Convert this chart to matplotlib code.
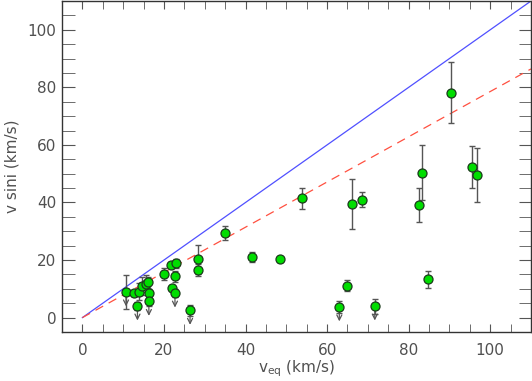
import numpy as np
import matplotlib
matplotlib.use("Agg")
import matplotlib.pyplot as plt

# -----------------------------
# Data
# -----------------------------
v_eq = np.array([10.7, 12.6, 14.0, 13.5, 14.6, 15.6, 16.2, 16.3, 16.3,
                 20.0, 21.8, 23.0, 22.7, 22.0, 22.7, 26.4, 28.3, 28.4,
                 34.9, 41.5, 48.4, 53.8, 63.0, 64.9, 66.1, 68.6, 71.7,
                 82.5, 83.3, 84.7, 90.3, 95.6, 96.7])
vsini = np.array([8.9, 8.6, 9.0, 4.0, 11.0, 11.8, 12.2, 8.6, 5.6,
                  15.2, 18.3, 18.9, 14.3, 10.2, 8.5, 2.5, 20.2, 16.6,
                  29.4, 21.1, 20.2, 41.5, 3.7, 11.1, 39.5, 41.0, 4.0,
                  39.2, 50.3, 13.3, 78.2, 52.2, 49.5])
vsini_err = np.array([6.0, 1.0, 3.0, 1.5, 3.0, 3.0, 2.0, 1.5, 1.5,
                      2.0, 1.0, 1.5, 2.0, 1.0, 1.5, 2.0, 5.0, 2.0,
                      2.6, 1.8, 0.8, 3.7, 2.0, 2.0, 8.7, 2.7, 2.6,
                      6.0, 9.6, 3.0, 10.6, 7.3, 9.4])
upper_limit = np.array([1, 0, 0, 1, 0, 0, 0, 0, 1,
                        0, 0, 0, 0, 0, 1, 1, 0, 0,
                        0, 0, 0, 0, 1, 0, 0, 0, 1,
                        0, 0, 0, 0, 0, 0], dtype=bool)

# reference lines: v sini = v_eq and v sini = (pi/4) v_eq
line_x = np.array([0, 110])

# -----------------------------
# Figure
# -----------------------------
fig = plt.figure(figsize=(5.32, 3.81), dpi=100)
ax = fig.add_axes([62/532, 1 - 332/381, 469/532, 331/381])

ax.plot(line_x, line_x, color="#5050ff", lw=0.9)
ax.plot(line_x, np.pi / 4 * line_x, color="#ff5040", lw=0.9, dashes=(7, 5))

ax.errorbar(v_eq, vsini, yerr=vsini_err, fmt="none", ecolor="#555555",
            elinewidth=1.0, capsize=2.3, capthick=1.0, zorder=2)

# upper-limit arrows
for xv, yv in zip(v_eq[upper_limit], vsini[upper_limit]):
    ax.annotate("", xy=(xv, yv - 5), xytext=(xv, yv),
                arrowprops=dict(arrowstyle="->", color="#555555", lw=0.9,
                                shrinkA=0, shrinkB=0, mutation_scale=9),
                zorder=2)

ax.plot(v_eq, vsini, "o", ms=6.5, mfc="#00dd00", mec="#1a3a1a", mew=0.9,
        zorder=3)

# -----------------------------
# Axes style
# -----------------------------
ax.set_xlim(-5, 110)
ax.set_ylim(-5, 110)
ax.set_xticks(np.arange(0, 101, 20))
ax.set_yticks(np.arange(0, 101, 20))
ax.set_xticks(np.arange(0, 111, 5), minor=True)
ax.set_yticks(np.arange(-5, 111, 5), minor=True)

tick_col = "#505050"
ax.tick_params(which="both", direction="in", top=True, right=True,
               colors="#555555", labelcolor=tick_col, labelsize=11)
ax.tick_params(axis="x", which="both", length=6, pad=8)
ax.tick_params(axis="y", which="both", length=9, pad=4)

for s in ax.spines.values():
    s.set_color("#333333")
    s.set_linewidth(1.0)

ax.set_xlabel(r"v$_\mathregular{eq}$ (km/s)", fontsize=11, color=tick_col,
              labelpad=0)
ax.set_ylabel("v sini (km/s)", fontsize=11, color=tick_col, labelpad=6)

plt.savefig("out.png", dpi=100)
